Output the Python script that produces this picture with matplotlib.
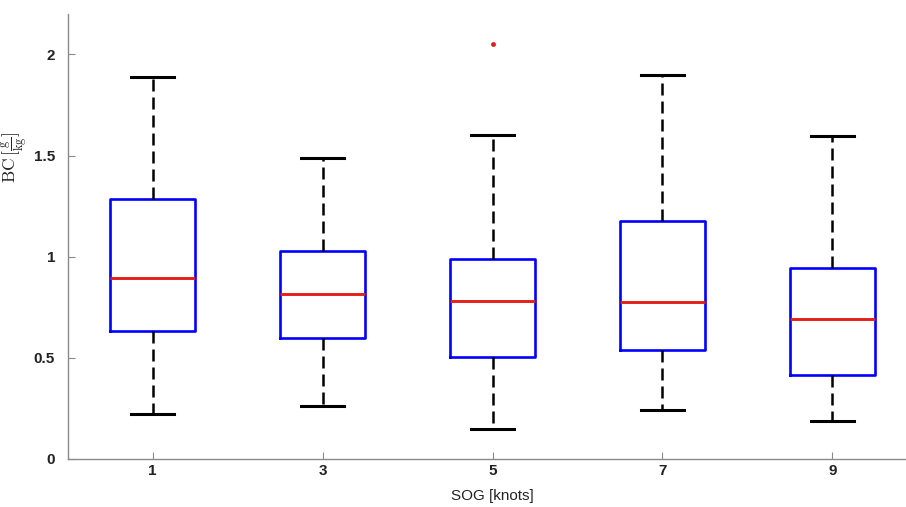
import matplotlib.pyplot as plt

# box statistics
positions = [1, 3, 5, 7, 9]
whis_lo = [0.222, 0.261, 0.15, 0.24, 0.187]
q1 = [0.635, 0.598, 0.505, 0.537, 0.414]
med = [0.897, 0.818, 0.78, 0.775, 0.69]
q3 = [1.286, 1.026, 0.99, 1.177, 0.946]
whis_hi = [1.89, 1.488, 1.60, 1.90, 1.596]
fliers = [[], [], [2.05], [], []]

plt.rcParams['font.family'] = ['Liberation Sans', 'DejaVu Sans']
plt.rcParams['mathtext.fontset'] = 'cm'

stats = []
for i in range(len(positions)):
    stats.append({'med': med[i], 'q1': q1[i], 'q3': q3[i],
                  'whislo': whis_lo[i], 'whishi': whis_hi[i],
                  'fliers': fliers[i]})

fig = plt.figure(figsize=(9.06, 5.07), dpi=100)
ax = fig.add_axes([0.0746, 0.0947, 0.938, 0.8777])

ax.bxp(stats, positions=positions, widths=1.0, manage_ticks=False,
       boxprops=dict(color='#0000ff', linewidth=1.9),
       medianprops=dict(color='#e3201c', linewidth=2.1),
       whiskerprops=dict(color='black', linewidth=1.8, linestyle=(0, (4.8, 2.4))),
       capprops=dict(color='black', linewidth=2.2),
       capwidths=0.5,
       flierprops=dict(marker='.', markersize=5, markerfacecolor='#e02020',
                       markeredgecolor='#e02020'))

ax.set_xlim(0, 10)
ax.set_ylim(0, 2.2)
ax.set_xticks(positions)
ax.set_yticks([0, 0.5, 1, 1.5, 2])
ax.set_yticklabels(['0', '0.5', '1', '1.5', '2'])

for s in ['top', 'right']:
    ax.spines[s].set_visible(False)
for s in ['left', 'bottom']:
    ax.spines[s].set_color('#8a8a8a')
    ax.spines[s].set_linewidth(1.0)
ax.tick_params(direction='in', length=5, color='#8a8a8a', labelsize=11,
               labelcolor='#222222', width=0.8)
ax.tick_params(axis='y', pad=9)
for lab in ax.get_xticklabels() + ax.get_yticklabels():
    lab.set_fontweight('bold')

ax.set_xlabel('SOG [knots]', fontsize=11, color='#222222', labelpad=8)
fig.text(15 / 906, 1 - 157 / 507, r'$\mathrm{BC}\,[\frac{\mathrm{g}}{\mathrm{kg}}]$',
         rotation=90, ha='center', va='center', fontsize=12.5, color='#222222')

fig.savefig('out.png', dpi=100)
